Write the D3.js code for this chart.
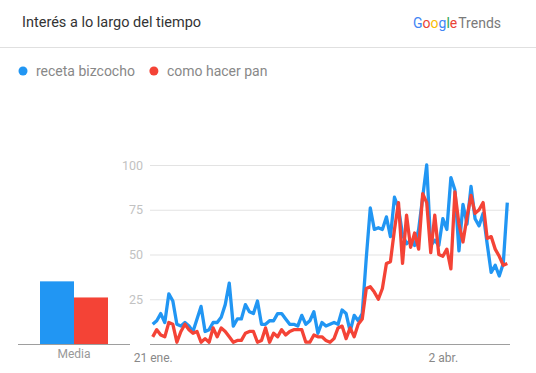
<!DOCTYPE html>
<html>
<head>
<meta charset="utf-8">
<script src="https://cdn.jsdelivr.net/npm/d3@7"></script>
<style>
  body { margin: 0; background: #fff; }
  svg { display: block; font-family: Roboto, "Noto Sans", sans-serif; }
</style>
</head>
<body>
<div id="plot"></div>
<script>
// data
const seriesNames = ["receta bizcocho", "como hacer pan"];
const seriesColors = ["#2196f3", "#f44336"];
const startDate = "2020-01-21";
const bizcocho = [11, 13, 17, 12, 28, 24, 11, 10, 12, 10, 7, 14, 21, 7, 8, 12, 12, 15, 22, 34,
  10, 14, 14, 22, 18, 17, 24, 11, 11, 13, 13, 17, 17, 14, 11, 11, 10, 16, 11, 13,
  18, 6, 12, 10, 11, 12, 11, 19, 17, 7, 16, 13, 17, 48, 76, 64, 65, 64, 71, 60,
  82, 76, 61, 56, 58, 55, 64, 82, 100, 55, 58, 55, 70, 64, 93, 86, 52, 78, 67, 88,
  70, 66, 73, 56, 40, 44, 38, 45, 79];
const pan = [4, 8, 5, 4, 12, 11, 1, 7, 11, 8, 6, 7, 1, 3, 1, 9, 4, 9, 7, 4,
  1, 2, 2, 6, 7, 7, 1, 2, 9, 1, 6, 4, 8, 5, 7, 8, 8, 8, 1, 1,
  5, 4, 4, 2, 1, 3, 9, 10, 3, 9, 4, 11, 14, 31, 32, 29, 25, 31, 45, 46,
  64, 79, 45, 72, 54, 62, 53, 84, 79, 51, 72, 50, 49, 53, 42, 85, 67, 57, 71, 83,
  73, 75, 79, 59, 60, 53, 49, 44, 45];
const averages = [35, 26];
const yTicks = [25, 50, 75, 100];
const xTickDates = ["2020-01-21", "2020-04-02"];
const xTickLabels = ["21 ene.", "2 abr."];
const barLabel = "Media";

const width = 536, height = 373;
const parse = d3.timeParse("%Y-%m-%d");
const dates = bizcocho.map((d, i) => d3.timeDay.offset(parse(startDate), i));

const svg = d3.select("#plot")
  .append("svg")
  .attr("width", width)
  .attr("height", height);

// header
svg.append("text")
  .attr("x", 22).attr("y", 27)
  .attr("font-size", 14.5).attr("fill", "#333")
  .text("Interés a lo largo del tiempo");

const logo = svg.append("text")
  .attr("x", 501).attr("y", 28)
  .attr("text-anchor", "end")
  .attr("font-size", 14);
const googleColors = ["#4285f4", "#ea4335", "#fbbc05", "#4285f4", "#34a853", "#ea4335"];
"Google".split("").forEach((c, i) => logo.append("tspan").attr("fill", googleColors[i]).text(c));
logo.append("tspan").attr("fill", "#7a7a7a").attr("dx", 1).text("Trends");

svg.append("line")
  .attr("x1", 0).attr("x2", width)
  .attr("y1", 47.5).attr("y2", 47.5)
  .attr("stroke", "#e0e0e0");

// legend
let lx = 23;
seriesNames.forEach((name, i) => {
  svg.append("circle").attr("cx", lx).attr("cy", 71).attr("r", 4.5).attr("fill", seriesColors[i]);
  const t = svg.append("text")
    .attr("x", lx + 13).attr("y", 76)
    .attr("font-size", 14).attr("fill", "#888")
    .text(name);
  lx += 13 + t.node().getComputedTextLength() + 19;
});

// scales
const yScale = d3.scaleLinear().domain([0, 100]).range([344, 165]);
const xScale = d3.scaleTime()
  .domain([dates[0], dates[dates.length - 1]])
  .range([152.7, 507.3]);
const barScale = d3.scaleBand().domain(seriesNames).range([40, 108]);

// average bars
svg.selectAll(".avg-bar")
  .data(averages)
  .join("rect")
  .attr("class", "avg-bar")
  .attr("x", (d, i) => barScale(seriesNames[i]))
  .attr("width", barScale.bandwidth())
  .attr("y", d => yScale(d))
  .attr("height", d => yScale(0) - yScale(d))
  .attr("fill", (d, i) => seriesColors[i]);

svg.append("line")
  .attr("x1", 18).attr("x2", 130)
  .attr("y1", 344.5).attr("y2", 344.5)
  .attr("stroke", "#9e9e9e");

svg.append("text")
  .attr("x", 74).attr("y", 358)
  .attr("text-anchor", "middle")
  .attr("font-size", 12).attr("fill", "#999")
  .text(barLabel);

// y grid
const yAxis = svg.append("g")
  .attr("transform", "translate(150,0)")
  .call(d3.axisLeft(yScale).tickValues(yTicks).tickSize(-360).tickPadding(7));
yAxis.select(".domain").remove();
yAxis.selectAll("line").attr("stroke", "#e3e3e3");
yAxis.selectAll("text").attr("font-size", 12.5).attr("fill", "#c2c2c2").attr("font-family", "Roboto");

svg.append("line")
  .attr("x1", 150).attr("x2", 510)
  .attr("y1", 344.5).attr("y2", 344.5)
  .attr("stroke", "#9e9e9e");

// x axis
const xAxis = svg.append("g")
  .attr("transform", "translate(0,345)")
  .call(d3.axisBottom(xScale)
    .tickValues(xTickDates.map(parse))
    .tickFormat((d, i) => xTickLabels[i])
    .tickSize(0).tickPadding(8));
xAxis.select(".domain").remove();
xAxis.selectAll("text").attr("font-size", 12).attr("fill", "#888").attr("font-family", "Roboto");

// lines
const line = d3.line()
  .x((d, i) => xScale(dates[i]))
  .y(d => yScale(d));

svg.selectAll(".series")
  .data([bizcocho, pan])
  .join("path")
  .attr("class", "series")
  .attr("d", line)
  .attr("fill", "none")
  .attr("stroke", (d, i) => seriesColors[i])
  .attr("stroke-width", 3.3)
  .attr("stroke-linejoin", "round");
</script>
</body>
</html>
